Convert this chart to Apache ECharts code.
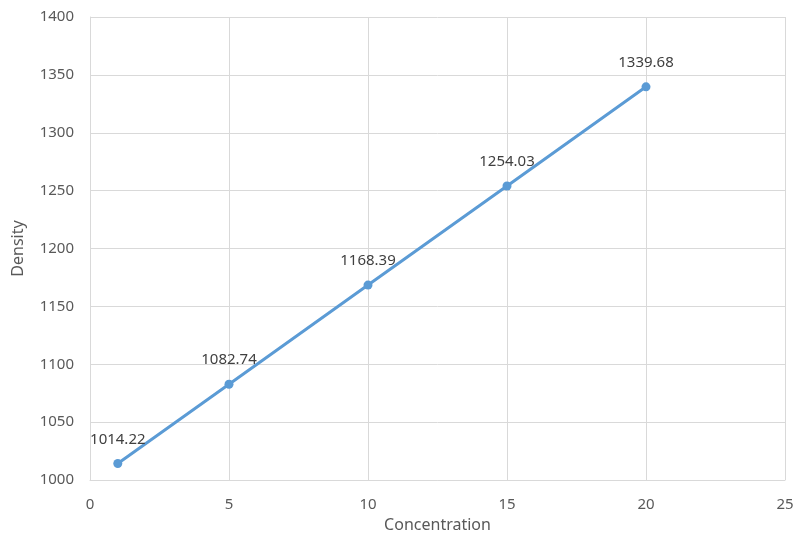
<!DOCTYPE html>
<html>
<head>
<meta charset="utf-8">
<script src="https://cdn.jsdelivr.net/npm/echarts@6/dist/echarts.min.js"></script>
<style>html,body{margin:0;padding:0;background:#fff;}#c{width:795px;height:535px;}</style>
</head>
<body>
<div id="c"></div>
<script>
var concentration = [1, 5, 10, 15, 20];
var density = [1014.22, 1082.74, 1168.39, 1254.03, 1339.68];
var xTicks = [0, 5, 10, 15, 20, 25];
var yTicks = [1000, 1050, 1100, 1150, 1200, 1250, 1300, 1350, 1400];

var chart = echarts.init(document.getElementById('c'));
var font = '"Noto Sans", "Open Sans", sans-serif';
chart.setOption({
  animation: false,
  grid: {left: 90, right: 10, top: 17, bottom: 55, outerBoundsMode: 'none', containLabel: false},
  xAxis: {
    type: 'value', min: xTicks[0], max: xTicks[xTicks.length-1], interval: 5,
    name: 'Concentration', nameLocation: 'middle', nameGap: 37,
    nameTextStyle: {color: '#595959', fontSize: 16, fontFamily: font},
    axisLine: {show: true, lineStyle: {color: '#d9d9d9', width: 1}},
    axisTick: {show: false},
    axisLabel: {color: '#595959', fontSize: 15, fontFamily: font, margin: 17,
      formatter: function(v){ return String(v); }},
    splitLine: {show: true, lineStyle: {color: '#d9d9d9', width: 1}}
  },
  yAxis: {
    type: 'value', min: yTicks[0], max: yTicks[yTicks.length-1], interval: 50,
    name: 'Density', nameLocation: 'middle', nameGap: 64, nameRotate: 90,
    nameTextStyle: {color: '#595959', fontSize: 16, fontFamily: font},
    axisLine: {show: true, lineStyle: {color: '#d9d9d9', width: 1}},
    axisTick: {show: false},
    axisLabel: {color: '#595959', fontSize: 15, fontFamily: font, margin: 16,
      formatter: function(v){ return String(v); }},
    splitLine: {show: true, lineStyle: {color: '#d9d9d9', width: 1}}
  },
  series: [{
    type: 'line',
    data: concentration.map(function(c, i){ return [c, density[i]]; }),
    symbol: 'circle', symbolSize: 9,
    itemStyle: {color: '#5B9BD5'},
    lineStyle: {color: '#5B9BD5', width: 3},
    label: {show: true, position: 'top', distance: 12, color: '#404040', fontSize: 15, fontFamily: font,
      formatter: function(p){ return p.value[1].toFixed(2); }}
  }]
});
</script>
</body>
</html>
